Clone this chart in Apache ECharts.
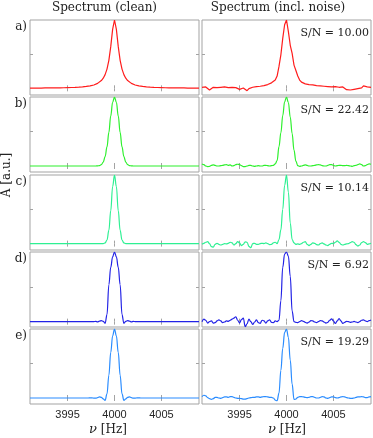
<!DOCTYPE html>
<html><head><meta charset="utf-8">
<script src="https://cdn.jsdelivr.net/npm/echarts@6/dist/echarts.min.js"></script>
<style>html,body{margin:0;padding:0;background:#fff}#c{width:373px;height:438px}</style>
</head><body><div id="c"></div>
<script>
// ---------- DATA ----------
const freq = [
3991.0,3991.2,3991.4,3991.6,3991.8,3992.0,3992.2,3992.4,3992.6,3992.8,
3993.0,3993.2,3993.4,3993.6,3993.8,3994.0,3994.2,3994.4,3994.6,3994.8,
3995.0,3995.2,3995.4,3995.6,3995.8,3996.0,3996.2,3996.4,3996.6,3996.8,
3997.0,3997.2,3997.4,3997.6,3997.8,3998.0,3998.2,3998.4,3998.6,3998.8,
3999.0,3999.2,3999.4,3999.6,3999.8,4000.0,4000.2,4000.4,4000.6,4000.8,
4001.0,4001.2,4001.4,4001.6,4001.8,4002.0,4002.2,4002.4,4002.6,4002.8,
4003.0,4003.2,4003.4,4003.6,4003.8,4004.0,4004.2,4004.4,4004.6,4004.8,
4005.0,4005.2,4005.4,4005.6,4005.8,4006.0,4006.2,4006.4,4006.6,4006.8,
4007.0,4007.2,4007.4,4007.6,4007.8,4008.0,4008.2,4008.4,4008.6,4008.8,
4009.0];
const xTicks = [3995, 4000, 4005];
const yTicks = [0.5];
const rowLabels = ['a)', 'b)', 'c)', 'd)', 'e)'];
const snLabels = ['S/N = 10.00', 'S/N = 22.42', 'S/N = 10.14', 'S/N = 6.92', 'S/N = 19.29'];
const colTitles = ['Spectrum (clean)', 'Spectrum (incl. noise)'];
const yMins = [-0.098, -0.087, -0.093, -0.077, -0.087];
const yMax = 1;

const cleanA = [0.003,0.003,0.003,0.004,0.004,0.004,0.004,0.004,0.005,0.005,
0.005,0.005,0.006,0.006,0.006,0.007,0.007,0.008,0.008,0.009,
0.010,0.011,0.012,0.013,0.014,0.015,0.017,0.019,0.021,0.024,
0.027,0.031,0.036,0.042,0.049,0.059,0.072,0.089,0.113,0.148,
0.200,0.281,0.410,0.610,0.862,1,0.862,0.610,0.410,0.281,
0.200,0.148,0.113,0.089,0.072,0.059,0.049,0.042,0.036,0.031,
0.027,0.024,0.021,0.019,0.017,0.015,0.014,0.013,0.012,0.011,
0.010,0.009,0.008,0.008,0.007,0.007,0.006,0.006,0.006,0.005,
0.005,0.005,0.005,0.004,0.004,0.004,0.004,0.004,0.003,0.003,
0.003];
const noisyA = [0.015,0.005,0.02,-0.005,-0.025,-0.015,0.015,0,0.01,-0.005,
0.015,0,0.02,-0.005,0.01,0.005,0.015,-0.01,0.01,0.025,
-0.015,-0.035,0.005,-0.015,-0.035,-0.005,-0.02,0.015,0.01,0.025,
0.015,0.03,0.02,0.04,0.035,0.055,0.065,0.08,0.095,0.12,
0.18,0.32,0.49,0.73,0.93,1,0.83,0.63,0.51,0.34,
0.26,0.18,0.12,0.09,0.08,0.065,0.07,0.055,0.045,0.05,
0.035,0.04,0.025,0.035,0.015,0.03,0.01,0.025,0.005,0.02,
0.01,0.025,0,0.015,0.005,0.02,-0.005,-0.02,0.005,-0.025,
-0.005,-0.015,0.01,-0.005,0.015,0.005,0.035,0.01,0.02,0.005,
0.015];
const cleanB = [0,0,0,0,0,0,0,0,0,0,
0,0,0,0,0,0,0,0,0,0,
0,0,0,0,0,0,0,0,0,0,
0,0,0,0,0,0,0.002,0.006,0.020,0.056,
0.135,0.278,0.487,0.726,0.923,1,0.923,0.726,0.487,0.278,
0.135,0.056,0.020,0.006,0.002,0,0,0,0,0,
0,0,0,0,0,0,0,0,0,0,
0,0,0,0,0,0,0,0,0,0,
0,0,0,0,0,0,0,0,0,0,
0];
const noisyB = [0.03,0.02,0,-0.01,-0.005,0.01,0.015,0.01,0,0,
0.005,0.01,0.015,0.02,0.01,0.015,0,0.005,0.02,0.025,
0.02,0.005,-0.01,-0.01,0,0.01,0.01,0,-0.005,0,
0.005,0,0,0.01,0.01,0.005,0,0.005,0.01,0.03,
0.08,0.28,0.48,0.73,0.93,1,0.92,0.71,0.47,0.23,
0.07,0.005,-0.005,0,0.01,0.015,0.01,0,0,0.005,
0.01,0.015,0.02,0.015,0.005,0,0,0.01,0.02,0.02,
0.01,0,0.005,0.01,0.01,0.005,0.005,0.01,0.005,0,
-0.005,0.005,0.01,0.02,0.03,0.02,0,0.005,0.02,0.03,
0.025];
const cleanC = [0,0,0,0,0,0,0,0,0,0,
0,0,0,0,0,0,0,0,0,0,
0,0,0,0,0,0,0,0,0,0,
0,0,0,0,0,0,0,0,0,0.001,
0.010,0.053,0.192,0.480,0.832,1,0.832,0.480,0.192,0.053,
0.010,0.001,0,0,0,0,0,0,0,0,
0,0,0,0,0,0,0,0,0,0,
0,0,0,0,0,0,0,0,0,0,
0,0,0,0,0,0,0,0,0,0,
0];
const noisyC = [-0.01,0.005,0.02,0.03,0,-0.045,-0.05,-0.01,0.005,-0.01,
-0.02,-0.01,0,-0.005,0.005,0.02,0.01,-0.02,0,0.03,
0.01,-0.03,-0.01,0.025,0.02,-0.04,-0.06,0,0.005,-0.01,
-0.01,0,0.005,0,0.01,0,-0.015,-0.01,0.01,0.02,
0,0.06,0.2,0.5,0.85,1,0.75,0.3,0.06,0.01,
-0.01,-0.005,-0.01,0,0.02,0.03,-0.01,-0.03,-0.01,0.01,
0.005,-0.015,-0.02,0,0.01,-0.005,-0.02,-0.03,-0.01,0.005,
0,0.02,0.04,0.02,-0.01,-0.02,-0.01,-0.005,0,0.015,
0.03,0.02,-0.015,-0.035,-0.02,0.015,0.03,0.015,-0.01,-0.005,
0.005];
const cleanD = [0,0,0,0,0,0,0,0,0,0,
0,0,0,0,0,0,0,0,0,0,
0,0,0,0,0,0,0,0,0,0,
0,0,0,0,0,0.003,-0.004,0.008,0.015,0.005,
-0.025,0.10,0.53,0.78,0.93,1,0.93,0.78,0.53,0.10,
-0.025,0.005,0.015,0.008,-0.004,0.003,0,0,0,0,
0,0,0,0,0,0,0,0,0,0,
0,0,0,0,0,0,0,0,0,0,
0,0,0,0,0,0,0,0,0,0,
0];
const noisyD = [0,0.035,0.02,-0.02,0,0.01,-0.02,-0.015,0.01,0.025,
0.01,-0.015,-0.005,0.01,0.005,0.02,0.035,0.05,0.07,0.02,
-0.02,0.03,0.05,-0.072,-0.03,0.035,0,-0.04,-0.005,0.025,
-0.015,-0.025,0.02,0.01,-0.02,0.01,0.025,-0.01,-0.015,0.01,
0,0.02,0.3,0.78,0.97,1,0.94,0.65,0.15,0,
-0.01,-0.015,0,0.015,0.005,-0.01,-0.02,-0.005,0.015,0.01,
-0.005,-0.015,0,0.015,0.01,-0.005,-0.02,-0.01,0.02,0.04,
0.01,-0.025,0.01,0.045,0.01,-0.025,-0.01,0.005,0,-0.01,
-0.005,0.005,-0.005,-0.015,0,0.02,0.025,0.01,0,0.015,
0.025];
const cleanE = [0,0,0,0,0,0,0,0,0,0,
0,0,0,0,0,0,0,0,0,0,
0,0,0,0,0,0,0,0,0,0,
0,0,0.001,0.002,-0.002,-0.003,0.005,0.015,0.01,-0.012,
-0.035,0.06,0.33,0.66,0.90,1,0.90,0.66,0.33,0.06,
-0.035,-0.012,0.01,0.015,0.005,-0.003,-0.002,0.002,0.001,0,
0,0,0,0,0,0,0,0,0,0,
0,0,0,0,0,0,0,0,0,0,
0,0,0,0,0,0,0,0,0,0,
0];
const noisyE = [0.02,0.04,0.03,0.005,-0.01,-0.02,-0.01,0.01,0.01,0,
-0.005,0.005,0.015,0.015,0.01,0.02,0.02,0.01,0,-0.005,
-0.005,-0.01,-0.015,-0.015,-0.01,0,0.005,0.01,0.01,0.015,
0.015,0.01,0.015,0.02,0.02,0.015,0.01,0.01,0,-0.03,
-0.04,0.07,0.4,0.72,0.95,1,0.88,0.55,0.2,-0.02,
-0.015,0.01,0.02,0.02,0.015,0.01,0.005,0.01,0.02,0.02,
0.01,0,0,0.01,0.02,0.015,0,-0.005,0.005,0.015,
0.015,0.005,0,0.005,0.015,0.02,0.015,0.005,0,-0.005,
-0.005,0,0.01,0.015,0.015,0.02,0.015,0.005,0.005,0.015,
0.02];

// ---------- LAYOUT / STYLE ----------
const rows = [
  {clean: cleanA, noisy: noisyA, color: '#ff1c1c', smoothClean: false, smoothNoisy: false},
  {clean: cleanB, noisy: noisyB, color: '#2df02d', smoothClean: 0.4, smoothNoisy: 0.4},
  {clean: cleanC, noisy: noisyC, color: '#2ef093', smoothClean: 0.4, smoothNoisy: 0.4},
  {clean: cleanD, noisy: noisyD, color: '#2222e6', smoothClean: 0.4, smoothNoisy: 0.4},
  {clean: cleanE, noisy: noisyE, color: '#2a8cff', smoothClean: 0.4, smoothNoisy: 0.4}
];
const rowTop = [20, 97, 175, 252, 329];
const panelH = 75;
const colLeft = [30, 202];
const panelW = 169;
const frameColor = '#a3a3a3';
const serif = '"DejaVu Serif", "Liberation Serif", serif';
const textColor = '#222';

const grids = [], xAxes = [], yAxes = [], series = [], graphics = [];
const badLen = [];

rows.forEach((row, r) => {
  [row.clean, row.noisy].forEach((vals, c) => {
    if (vals.length !== freq.length) badLen.push('r' + r + 'c' + c + ':' + vals.length);
    const gi = grids.length;
    grids.push({left: colLeft[c], top: rowTop[r], width: panelW, height: panelH,
      show: true, borderColor: frameColor, borderWidth: 1, backgroundColor: '#fff'});
    const isBottom = r === rows.length - 1;
    const xi = xAxes.length;
    xAxes.push({type: 'value', gridIndex: gi, min: 3991, max: 4009, position: 'bottom',
      axisLine: {show: false}, splitLine: {show: false},
      axisTick: {show: true, inside: true, length: 3, customValues: xTicks, lineStyle: {color: frameColor}},
      axisLabel: {show: isBottom, customValues: xTicks, fontSize: 11, color: '#262626',
        formatter: v => String(v),
        fontFamily: '"Liberation Sans", Arial, sans-serif', margin: 5}});
    xAxes.push({type: 'value', gridIndex: gi, min: 3991, max: 4009, position: 'top',
      axisLine: {show: false}, splitLine: {show: false}, axisLabel: {show: false},
      axisTick: {show: true, inside: true, length: 3, customValues: xTicks, lineStyle: {color: frameColor}}});
    const yi = yAxes.length;
    yAxes.push({type: 'value', gridIndex: gi, min: yMins[r], max: yMax, position: 'left',
      axisLine: {show: false}, splitLine: {show: false}, axisLabel: {show: false},
      axisTick: {show: true, inside: true, length: 3, customValues: yTicks, lineStyle: {color: frameColor}}});
    yAxes.push({type: 'value', gridIndex: gi, min: yMins[r], max: yMax, position: 'right',
      axisLine: {show: false}, splitLine: {show: false}, axisLabel: {show: false},
      axisTick: {show: true, inside: true, length: 3, customValues: yTicks, lineStyle: {color: frameColor}}});
    series.push({type: 'line', xAxisIndex: xi, yAxisIndex: yi, showSymbol: false,
      smooth: c === 0 ? row.smoothClean : row.smoothNoisy, smoothMonotone: 'x',
      lineStyle: {color: row.color, width: 1.2}, itemStyle: {color: row.color},
      animation: false, silent: true,
      data: freq.map((f, i) => [f, vals[i]])});
  });
  graphics.push({type: 'text', x: 27, y: rowTop[r] + 7,
    style: {text: rowLabels[r], font: '12px ' + serif, fill: textColor, align: 'right', verticalAlign: 'middle'}});
  graphics.push({type: 'text', x: 369, y: rowTop[r] + 13,
    style: {text: snLabels[r], font: '11px ' + serif, fill: textColor, align: 'right', verticalAlign: 'middle'}});
});

graphics.push({type: 'text', x: 104.5, y: 8,
  style: {text: colTitles[0], font: '12px ' + serif, fill: textColor, align: 'center', verticalAlign: 'middle'}});
graphics.push({type: 'text', x: 278, y: 8,
  style: {text: colTitles[1], font: '12px ' + serif, fill: textColor, align: 'center', verticalAlign: 'middle'}});
graphics.push({type: 'text', x: 7, y: 175, rotation: Math.PI / 2,
  style: {text: 'A [a.u.]', font: '12px ' + serif, fill: textColor, align: 'center', verticalAlign: 'middle'}});
[108, 287].forEach(cx => {
  graphics.push({type: 'text', x: cx, y: 430,
    style: {text: '{i|ν} [Hz]', font: '12px ' + serif, fill: textColor, align: 'center', verticalAlign: 'middle',
      rich: {i: {fontStyle: 'italic', fontFamily: serif, fontSize: 13, fill: textColor}}}});
});
if (badLen.length) {
  graphics.push({type: 'text', x: 5, y: 5, z: 100, style: {text: 'LEN ' + badLen.join(' '), font: '10px sans-serif', fill: '#f0f'}});
}

const chart = echarts.init(document.getElementById('c'), null, {renderer: 'canvas'});
chart.setOption({
  animation: false,
  backgroundColor: '#fff',
  grid: grids, xAxis: xAxes, yAxis: yAxes, series: series, graphic: graphics
});
</script>
</body></html>
